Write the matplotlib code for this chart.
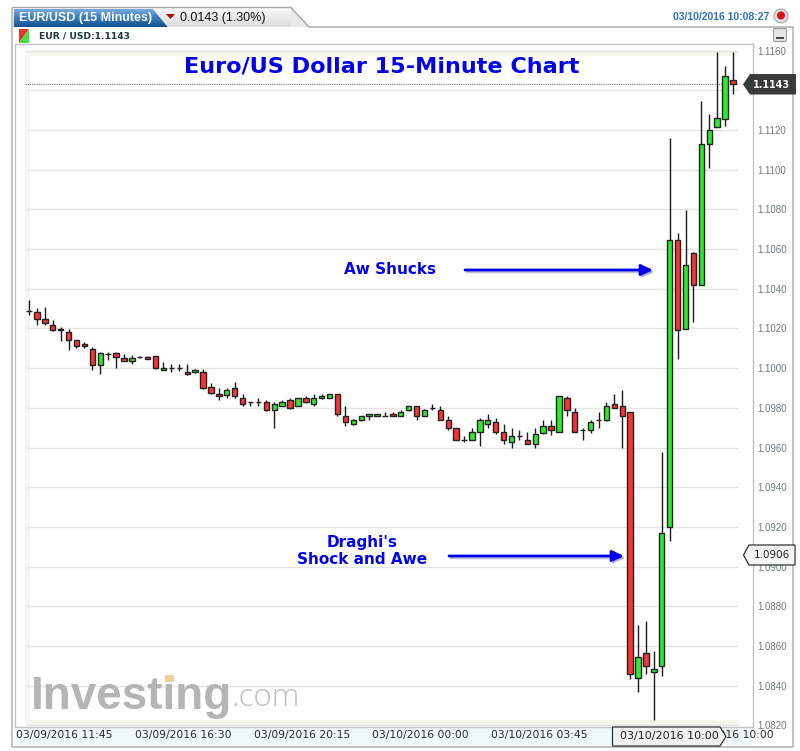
import numpy as np
import matplotlib
matplotlib.use('Agg')
import matplotlib.pyplot as plt
from matplotlib.patches import Polygon, Rectangle, Circle, FancyBboxPatch

# candles, one per 15 minutes
opens = [1.10287, 1.10285, 1.10248, 1.10218, 1.10198, 1.1018, 1.10141, 1.10121, 1.10097, 1.10018,
         1.1007, 1.10077, 1.10049, 1.10038, 1.10057, 1.10057, 1.10059, 1.0999, 1.10002, 1.10002,
         1.0998, 1.0998, 1.0998, 1.09903, 1.09871, 1.09865, 1.09899, 1.0985, 1.0983, 1.0983,
         1.0983, 1.0979, 1.0981, 1.0984, 1.0981, 1.0985, 1.09818, 1.0985, 1.0985, 1.09871,
         1.0976, 1.0972, 1.0974, 1.0976, 1.0976, 1.09761, 1.0977, 1.0976, 1.0979, 1.09808,
         1.09758, 1.098, 1.0979, 1.09739, 1.09699, 1.0964, 1.0964, 1.09679, 1.0972, 1.0973,
         1.09679, 1.0963, 1.09659, 1.0964, 1.0962, 1.09671, 1.09709, 1.09681, 1.09849, 1.0978,
         1.09691, 1.09691, 1.09739, 1.09739, 1.0982, 1.09808, 1.0978, 1.08438, 1.08567, 1.08468,
         1.08498, 1.0920, 1.10647, 1.10199, 1.10579, 1.10418, 1.11128, 1.11217, 1.11257, 1.1145]
closes = [1.10287, 1.10248, 1.10226, 1.1019, 1.1019, 1.10141, 1.1011, 1.1011, 1.10018, 1.10077,
          1.1007, 1.10057, 1.10038, 1.10049, 1.10057, 1.10048, 1.1, 1.10002, 1.10002, 1.10002,
          1.09969, 1.09992, 1.09902, 1.09874, 1.09859, 1.09889, 1.09859, 1.09818, 1.0983, 1.0983,
          1.0979, 1.0982, 1.0983, 1.09798, 1.0985, 1.0983, 1.0985, 1.0986, 1.09871, 1.0977,
          1.0973, 1.0974, 1.0976, 1.0977, 1.0977, 1.09761, 1.0976, 1.0978, 1.09808, 1.0976,
          1.0979, 1.098, 1.09741, 1.09699, 1.0964, 1.0964, 1.09679, 1.0974, 1.0974, 1.09679,
          1.0964, 1.09659, 1.09659, 1.0962, 1.09669, 1.09709, 1.09691, 1.09859, 1.0979, 1.09681,
          1.09691, 1.09729, 1.09739, 1.09808, 1.098, 1.09761, 1.08458, 1.08547, 1.08498, 1.08486,
          1.09168, 1.10647, 1.10191, 1.10518, 1.10418, 1.11128, 1.11198, 1.1126, 1.11471, 1.1143]
highs = [1.10343, 1.10303, 1.10307, 1.10244, 1.10205, 1.10195, 1.10143, 1.1013, 1.10107, 1.10084,
         1.1008, 1.1008, 1.10069, 1.10064, 1.10061, 1.10061, 1.10059, 1.10031, 1.1002, 1.1002,
         1.10021, 1.09998, 1.09995, 1.09923, 1.09901, 1.09901, 1.09929, 1.09872, 1.0983, 1.09849,
         1.09839, 1.09829, 1.09839, 1.0985, 1.09852, 1.09862, 1.09872, 1.09871, 1.09871, 1.09871,
         1.09812, 1.09745, 1.09761, 1.09771, 1.09771, 1.0978, 1.0978, 1.09788, 1.09812, 1.09812,
         1.09795, 1.09822, 1.09812, 1.09758, 1.09699, 1.09657, 1.09699, 1.0975, 1.0977, 1.0975,
         1.09719, 1.09699, 1.09687, 1.09679, 1.09699, 1.09738, 1.09741, 1.09859, 1.09859, 1.098,
         1.09699, 1.09741, 1.0978, 1.09829, 1.09871, 1.09892, 1.0978, 1.08706, 1.08726, 1.08577,
         1.09578, 1.11158, 1.1068, 1.10798, 1.10587, 1.11348, 1.11279, 1.11591, 1.11522, 1.11591]
lows = [1.10266, 1.10218, 1.1022, 1.10189, 1.10139, 1.1009, 1.10102, 1.101, 1.09992, 1.09972,
        1.10041, 1.10002, 1.10036, 1.10021, 1.1005, 1.10044, 1.09998, 1.09989, 1.09982, 1.09985,
        1.09966, 1.09975, 1.09897, 1.0987, 1.09842, 1.0985, 1.09852, 1.09812, 1.09812, 1.09812,
        1.09783, 1.09699, 1.09808, 1.09795, 1.09808, 1.09825, 1.09812, 1.09845, 1.09849, 1.09758,
        1.09708, 1.09716, 1.09733, 1.09741, 1.09758, 1.0976, 1.09758, 1.09758, 1.09783, 1.09741,
        1.09758, 1.09788, 1.09738, 1.09691, 1.09638, 1.0963, 1.09638, 1.0961, 1.09699, 1.09666,
        1.0962, 1.09598, 1.0964, 1.09618, 1.09598, 1.09666, 1.09661, 1.09681, 1.09761, 1.09679,
        1.0964, 1.09671, 1.09699, 1.09736, 1.098, 1.09598, 1.08434, 1.08367, 1.08458, 1.08228,
        1.08449, 1.09129, 1.10048, 1.10199, 1.10231, 1.10418, 1.1101, 1.11217, 1.1122, 1.1138]

y_ticks = [1.082 + 0.002 * k for k in range(18)]
x_tick_pos = [4.5, 19.5, 34.5, 49.5, 64.5, 88]
x_tick_labels = ['03/09/2016 11:45', '03/09/2016 16:30', '03/09/2016 20:15',
                 '03/10/2016 00:00', '03/10/2016 03:45', '03/10/2016 10:00']
last_price = 1.1143

W, H = 800, 751
RED = '#fb3333'
GREEN = '#30ea30'
BLUE = '#0000ee'

fig = plt.figure(figsize=(W / 100, H / 100), dpi=100, facecolor='white')

# pixel axes behind the chart
back = fig.add_axes([0, 0, 1, 1], zorder=0)
back.set_xlim(0, W)
back.set_ylim(H, 0)
back.axis('off')

# tab bar
grad = np.linspace(0, 1, 32).reshape(-1, 1)
back.imshow(grad, extent=(13, 292, 27, 8), aspect='auto', cmap=plt.cm.colors.LinearSegmentedColormap.from_list('g', ['#f8f8f8', '#dcdcdc']), zorder=1)
back.add_patch(Polygon([(13, 7.5), (291, 7.5), (309, 27), (793, 27), (793, 747), (12, 747), (12, 8)],
                       closed=True, fill=False, ec='#a8a8a8', lw=1, zorder=2))
back.add_patch(Polygon([(291, 8), (309, 27), (291, 27)], closed=True, fc='#e8e8e8', ec='none', zorder=1.5))

tab = Polygon([(14, 9), (153, 9), (168, 27.5), (14, 27.5)], closed=True, transform=back.transData)
blue_cmap = plt.cm.colors.LinearSegmentedColormap.from_list('b', ['#7fb0e0', '#3b7dbd', '#14508f'])
im = back.imshow(grad, extent=(14, 168, 27.5, 9), aspect='auto', cmap=blue_cmap, zorder=3)
im.set_clip_path(tab)
back.text(19, 18, 'EUR/USD (15 Minutes)', color='white', fontsize=9, fontweight='bold',
          family='Liberation Sans', va='center', zorder=4)
back.add_patch(Polygon([(166, 14), (175, 14), (170.5, 19)], closed=True, fc='#a80c0c', ec='none', zorder=4))
back.text(180, 17.5, '0.0143 (1.30%)', color='#111111', fontsize=9, family='Liberation Sans',
          va='center', zorder=4)
back.text(769, 17, '03/10/2016 10:08:27', color='#2d71b8', fontsize=7.5, fontweight='bold',
          family='Liberation Sans', va='center', ha='right', zorder=4)
back.add_patch(Circle((781, 16), 7, fc='#dddddd', ec='#aaaaaa', lw=0.8, zorder=4))
back.add_patch(Circle((781, 15.5), 4, fc='#d9101c', ec='none', zorder=5))

# legend row
back.add_patch(Polygon([(19, 29), (29, 29), (19, 43)], closed=True, fc='#e8352b', ec='none', zorder=3))
back.add_patch(Polygon([(29, 29), (29, 43), (19, 43)], closed=True, fc='#44e044', ec='none', zorder=3))
back.text(39, 36, 'EUR / USD:1.1143', color='#17383f', fontsize=6.6, fontweight='bold',
          va='center', zorder=4)
back.add_patch(FancyBboxPatch((775, 30), 10, 10, boxstyle='round,pad=1.5', fc='#e4e4e4', ec='#999999', lw=0.8, zorder=4))
back.add_patch(Rectangle((776, 37), 8, 2, fc='#444444', ec='none', zorder=5))

# band under the chart
back.add_patch(Rectangle((15, 727), 737, 18, fc='#f1f8fc', ec='none', zorder=1))

# chart, limits set so the index and price land on the reference pixels
left, right, top, bottom = 15.0, 752.7, 44.0, 727.0
ax = fig.add_axes([left / W, 1 - bottom / H, (right - left) / W, (bottom - top) / H], zorder=1)
x0, dx = 29.0, 7.91
y0, dy = 50.6, 5.038e-5
px_x = lambda p: (p - x0) / dx
px_y = lambda p: 1.116 - (p - y0) * dy
ax.set_xlim(px_x(left), px_x(right))
ax.set_ylim(px_y(bottom), px_y(top))
for s in ax.spines.values():
    s.set_color('#c4c4c4')
    s.set_linewidth(1)

# soft strips at the top, left and bottom of the plotting area
ax.hlines([px_y(52.5), px_y(722)], px_x(25), px_x(738), color='#f5f5f2', lw=3.5, zorder=0.5)
ax.vlines(px_x(27), px_y(722), px_y(52.5), color='#f5f5f2', lw=3.5, zorder=0.5)

for t in y_ticks:
    ax.hlines(t, px_x(25), px_x(738), color='#e4e4e4', lw=1, zorder=1)
ax.hlines(last_price, px_x(25), px_x(738), color='#777777', lw=0.8, linestyles=(0, (1, 1)), zorder=1.5)

idx = np.arange(len(opens))
opens_a, closes_a = np.array(opens), np.array(closes)
ax.vlines(idx, lows, highs, color='#1c1c1c', lw=1, zorder=2)
colors = [GREEN if c > o else RED for o, c in zip(opens, closes)]
ax.bar(idx, np.abs(closes_a - opens_a), bottom=np.minimum(opens_a, closes_a), width=0.68,
       color=colors, edgecolor='#222222', linewidth=1, zorder=3)

ax.set_yticks(y_ticks)
# the 1.1140 label sits fully behind the price flag
ax.set_yticklabels(['' if abs(t - 1.114) < 1e-6 else '%.4f' % t for t in y_ticks],
                   family='Liberation Sans', fontsize=7, color='#6f7a80')
ax.yaxis.tick_right()
ax.set_xticks(x_tick_pos)
ax.set_xticklabels(x_tick_labels, fontsize=7.75, color='#2a2a2a')
ax.tick_params(axis='both', length=0)
ax.tick_params(axis='y', pad=3.6)
ax.tick_params(axis='x', pad=2.5)

# pixel axes on top for notes
top_ax = fig.add_axes([0, 0, 1, 1], zorder=2)
top_ax.set_xlim(0, W)
top_ax.set_ylim(H, 0)
top_ax.axis('off')
top_ax.patch.set_alpha(0)

top_ax.text(382, 67, 'Euro/US Dollar 15-Minute Chart', color=BLUE, fontsize=16.1, fontweight='bold',
            ha='center', va='center')
top_ax.text(389.5, 270, 'Aw Shucks', color=BLUE, fontsize=11, fontweight='bold', ha='center', va='center')
top_ax.text(362, 551, "Draghi's\nShock and Awe", color=BLUE, fontsize=11, fontweight='bold',
            ha='center', va='center', linespacing=1.1)

for (a, b, y) in [(465, 653, 270), (449, 624, 556)]:
    top_ax.annotate('', xy=(b + 1.5, y + 2), xytext=(a + 1.5, y + 2),
                    arrowprops=dict(arrowstyle='-|>,head_length=0.7,head_width=0.33', color='#9a9ac0', lw=1.8,
                                    shrinkA=0, shrinkB=0, alpha=0.6))
    top_ax.annotate('', xy=(b, y), xytext=(a, y),
                    arrowprops=dict(arrowstyle='-|>,head_length=0.7,head_width=0.33', color=BLUE, lw=2,
                                    shrinkA=0, shrinkB=0))

# watermark
top_ax.text(31, 697, 'Investing', color='#b5b5b5', fontsize=33, fontweight='bold', family='Liberation Sans',
            va='center', ha='left', zorder=1)
top_ax.text(231, 698, '.com', color='#bdbdbd', fontsize=22.5, family='Open Sans', fontweight='light',
            va='center', ha='left', zorder=1)
top_ax.add_patch(Rectangle((165, 674.5), 9, 7.5, fc='#f4cd9a', ec='none', zorder=2))

# price flags
top_ax.add_patch(Polygon([(743, 84.5), (750, 74), (796, 74), (796, 94.5), (750, 94.5)], closed=True,
                         fc='#3a3a3a', ec='none', zorder=3))
top_ax.text(772, 84.5, '%.4f' % last_price, color='white', fontsize=6.9, fontweight='bold',
            ha='center', va='center', zorder=4)
top_ax.add_patch(Polygon([(743.5, 555), (749, 545), (795, 545), (795, 565), (749, 565)], closed=True,
                         fc='#f6f6f6', ec='#333333', lw=0.9, zorder=3))
top_ax.text(771.5, 555, '1.0906', color='#222222', fontsize=7.5, ha='center', va='center', zorder=4)

# hover date box
top_ax.add_patch(Polygon([(612.5, 727), (720, 727), (726, 736.5), (720, 746), (612.5, 746)], closed=True,
                         fc='#f1f1f1', ec='#333333', lw=0.9, zorder=3))
top_ax.text(669.5, 736, '03/10/2016 10:00', color='#222222', fontsize=8, ha='center', va='center', zorder=4)

fig.savefig('out.png', dpi=100)
